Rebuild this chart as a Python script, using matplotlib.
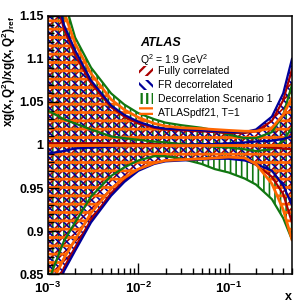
import matplotlib
matplotlib.use("Agg")
import matplotlib as mpl
import matplotlib.pyplot as plt
from matplotlib.patches import Patch
from matplotlib.ticker import FixedLocator, FixedFormatter, MultipleLocator
import numpy as np

plt.rcParams['font.family'] = ['Liberation Sans', 'DejaVu Sans']
plt.rcParams['mathtext.fontset'] = 'custom'
plt.rcParams['mathtext.rm'] = 'Liberation Sans'
plt.rcParams['mathtext.it'] = 'Liberation Sans:italic'
plt.rcParams['mathtext.bf'] = 'Liberation Sans:bold'

# x grid the curves were read at
xs = [0.001, 0.0015, 0.002, 0.003, 0.005, 0.007, 0.01, 0.015, 0.02, 0.03,
      0.05, 0.07, 0.1, 0.15, 0.2, 0.3, 0.4, 0.5]

# Fully correlated (red)
red_hi = [1.21, 1.135, 1.105, 1.072, 1.044, 1.033, 1.025, 1.02, 1.018, 1.017,
          1.016, 1.015, 1.014, 1.014, 1.016, 1.028, 1.052, 1.088]
red_lo = [0.80, 0.857, 0.881, 0.913, 0.944, 0.959, 0.971, 0.979, 0.982, 0.983,
          0.984, 0.985, 0.985, 0.983, 0.977, 0.963, 0.943, 0.91]
red_c = [1.002, 1.002, 1.002, 1.002, 1.002, 1.002, 1.001, 1.001, 1.0, 1.0,
         1.0, 1.0, 1.0, 1.0, 0.999, 0.997, 0.996, 0.995]

# FR decorrelated (blue)
blue_hi = [1.22, 1.14, 1.11, 1.075, 1.046, 1.035, 1.027, 1.021, 1.019, 1.018,
           1.017, 1.016, 1.015, 1.015, 1.018, 1.033, 1.06, 1.10]
blue_lo = [0.795, 0.853, 0.877, 0.91, 0.941, 0.957, 0.97, 0.978, 0.981, 0.982,
           0.983, 0.984, 0.984, 0.982, 0.978, 0.97, 0.953, 0.93]
blue_c = [0.99, 0.993, 0.996, 0.997, 0.998, 0.999, 0.999, 1.0, 1.0, 1.0,
          1.001, 1.001, 1.002, 1.003, 1.004, 1.005, 1.007, 1.01]

# Decorrelation Scenario 1 (green)
green_hi = [1.25, 1.17, 1.125, 1.09, 1.06, 1.047, 1.037, 1.03, 1.026, 1.023,
            1.02, 1.017, 1.012, 1.008, 1.008, 1.015, 1.035, 1.07]
green_lo = [0.84, 0.888, 0.91, 0.94, 0.964, 0.974, 0.982, 0.987, 0.987, 0.984,
            0.978, 0.972, 0.968, 0.961, 0.954, 0.937, 0.915, 0.89]
green_c = [1.04, 1.03, 1.025, 1.018, 1.01, 1.008, 1.006, 1.004, 1.003, 1.001,
           1.0, 0.998, 0.997, 0.995, 0.993, 0.995, 1.005, 1.02]

# ATLASpdf21, T=1 (orange)
orange_hi = [1.23, 1.155, 1.118, 1.083, 1.053, 1.041, 1.032, 1.025, 1.022, 1.02,
             1.019, 1.018, 1.017, 1.016, 1.016, 1.02, 1.035, 1.055]
orange_lo = [0.83, 0.868, 0.89, 0.921, 0.949, 0.962, 0.972, 0.979, 0.982, 0.983,
             0.984, 0.985, 0.986, 0.985, 0.978, 0.955, 0.925, 0.89]
orange_c = [1.0] * len(xs)

labels = ['Fully correlated', 'FR decorrelated', 'Decorrelation Scenario 1',
          'ATLASpdf21, T=1']
yticks = [0.85, 0.9, 0.95, 1.0, 1.05, 1.1, 1.15]
ytick_labels = ['0.85', '0.9', '0.95', '1', '1.05', '1.1', '1.15']
xticks = [1e-3, 1e-2, 1e-1]
xtick_labels = [r'$\mathbf{10^{-3}}$', r'$\mathbf{10^{-2}}$', r'$\mathbf{10^{-1}}$']

c_red = '#aa0000'
c_blue = '#000099'
c_green = '#117711'
c_orange = '#ff6600'

series = [
    (green_lo, green_hi, green_c, c_green, '|||', 1.2),
    (red_lo, red_hi, red_c, c_red, '////', 1.2),
    (blue_lo, blue_hi, blue_c, c_blue, '\\\\\\\\', 1.2),
    (orange_lo, orange_hi, orange_c, c_orange, '--', 2.0),
]

fig = plt.figure(figsize=(3.07, 3.05), dpi=100)
ax = fig.add_axes([0.156, 0.1016, 0.795, 0.846])

for lo, hi, c, col, h, hlw in series:
    with mpl.rc_context({'hatch.linewidth': hlw}):
        ax.fill_between(xs, lo, hi, facecolor='none', edgecolor=col,
                        hatch=h, linewidth=0)

for lo, hi, c, col, h, hlw in series:
    lw = 2.0 if col == c_orange else 1.6
    ax.plot(xs, hi, color=col, lw=lw)
    ax.plot(xs, lo, color=col, lw=lw)
    ax.plot(xs, c, color=col, lw=lw)

ax.set_xscale('log')
ax.set_xlim(1e-3, 0.5)
ax.set_ylim(0.85, 1.15)

ax.xaxis.set_major_locator(FixedLocator(xticks))
ax.xaxis.set_major_formatter(FixedFormatter(xtick_labels))
ax.yaxis.set_major_locator(FixedLocator(yticks))
ax.yaxis.set_major_formatter(FixedFormatter(ytick_labels))
ax.yaxis.set_minor_locator(MultipleLocator(0.01))
ax.tick_params(which='both', direction='in', top=False, right=False, width=1.0)
ax.tick_params(axis='y', labelsize=9, pad=3)
ax.tick_params(axis='x', labelsize=9.5, pad=5)
ax.tick_params(which='major', length=8)
ax.tick_params(which='minor', length=4)
for lab in ax.get_yticklabels():
    lab.set_fontweight('bold')
for s in ax.spines.values():
    s.set_linewidth(1.1)

ax.set_ylabel(r'$\mathbf{xg(x,Q^2)/xg(x,Q^2)_{ref}}$', fontsize=8.5,
              loc='top', labelpad=1)
ax.set_xlabel('x', fontsize=9, fontweight='bold', loc='right', labelpad=-4)

ax.text(0.377, 0.895, 'ATLAS', transform=ax.transAxes, fontsize=9,
        fontweight='bold', fontstyle='italic', va='center')
ax.text(0.377, 0.83, r'Q$^2$ = 1.9 GeV$^2$', transform=ax.transAxes,
        fontsize=7.5, va='center')

with mpl.rc_context({'hatch.linewidth': 1.6}):
    handles = [
        Patch(facecolor='none', edgecolor=c_red, hatch='///', linewidth=0),
        Patch(facecolor='none', edgecolor=c_blue, hatch='\\\\\\', linewidth=0),
        Patch(facecolor='none', edgecolor=c_green, hatch='|||', linewidth=0),
        Patch(facecolor='none', edgecolor=c_orange, hatch='---', linewidth=0),
    ]
    leg = ax.legend(handles, labels, loc='upper left', bbox_to_anchor=(0.365, 0.815),
                    frameon=False, fontsize=7.5, handlelength=1.3, handleheight=1.15,
                    handletextpad=0.5, labelspacing=0.3, borderaxespad=0,
                    borderpad=0.2)

fig.savefig('out.png', dpi=100)
